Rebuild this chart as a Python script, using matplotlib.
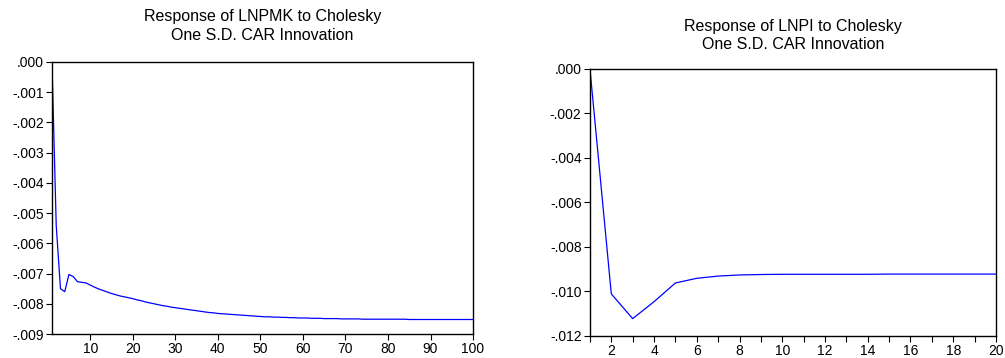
import numpy as np
import matplotlib.pyplot as plt
import matplotlib as mpl
from matplotlib.ticker import FuncFormatter, MultipleLocator

mpl.rcParams['font.family'] = ['Liberation Sans', 'DejaVu Sans']

# ---- data: impulse responses ----
lnpmk_periods = list(range(1, 101))
lnpmk_resp = [
    0.0, -0.0054, -0.0075, -0.0076, -0.00703, -0.0071, -0.00727, -0.00729, -0.00731, -0.00738,
    -0.00745, -0.00751, -0.00756, -0.00761, -0.00766, -0.00770, -0.00774, -0.00777, -0.00780, -0.00783,
    -0.00787, -0.00790, -0.00794, -0.00797, -0.00800, -0.00803, -0.00806, -0.00808, -0.00811, -0.00813,
    -0.00815, -0.00817, -0.00819, -0.00821, -0.00823, -0.00825, -0.00827, -0.00829, -0.00830, -0.00832,
    -0.00833, -0.00834, -0.00835, -0.00836, -0.00837, -0.00838, -0.00839, -0.00840, -0.00841, -0.00842,
    -0.00843, -0.00843, -0.00844, -0.00844, -0.00845, -0.00845, -0.00846, -0.00846, -0.00847, -0.00847,
    -0.00847, -0.00848, -0.00848, -0.00848, -0.00849, -0.00849, -0.00849, -0.00849, -0.00850, -0.00850,
    -0.00850, -0.00850, -0.00850, -0.00851, -0.00851, -0.00851, -0.00851, -0.00851, -0.00851, -0.00851,
    -0.00851, -0.00851, -0.00851, -0.00851, -0.00852, -0.00852, -0.00852, -0.00852, -0.00852, -0.00852,
    -0.00852, -0.00852, -0.00852, -0.00852, -0.00852, -0.00852, -0.00852, -0.00852, -0.00852, -0.00852,
]

lnpi_periods = list(range(1, 21))
lnpi_resp = [
    0.0, -0.01011, -0.01122, -0.01046, -0.00962, -0.00941, -0.00931, -0.00926, -0.00924, -0.00923,
    -0.00923, -0.00923, -0.00923, -0.00923, -0.00922, -0.00922, -0.00922, -0.00922, -0.00922, -0.00922,
]

titles = ['Response of LNPMK to Cholesky\nOne S.D. CAR Innovation',
          'Response of LNPI to Cholesky\nOne S.D. CAR Innovation']


def eviews_fmt(v, pos):
    s = f'{abs(v):.3f}'.lstrip('0')
    return s if abs(v) < 1e-12 else ('-' + s if v < 0 else s)


def style_axes(ax):
    for sp in ax.spines.values():
        sp.set_linewidth(1.0)
        sp.set_color('black')
    ax.tick_params(axis='both', which='both', direction='out', length=4,
                   width=0.8, labelsize=10, top=False, right=False, pad=2)
    ax.yaxis.set_major_formatter(FuncFormatter(eviews_fmt))


fig = plt.figure(figsize=(10.05, 3.58), dpi=100)

ax1 = fig.add_axes([0.0517, 0.067, 0.419, 0.760])
ax1.plot(lnpmk_periods, lnpmk_resp, color='#0000FF', linewidth=0.9)
ax1.set_xlim(1, 100)
ax1.set_ylim(-0.009, 0.0)
ax1.set_xticks(range(10, 101, 10))
ax1.yaxis.set_major_locator(MultipleLocator(0.001))
style_axes(ax1)
ax1.set_title(titles[0], fontsize=11.5, pad=16, linespacing=1.3)

ax2 = fig.add_axes([0.587, 0.0615, 0.404, 0.7465])
ax2.plot(lnpi_periods, lnpi_resp, color='#0000FF', linewidth=0.9)
ax2.set_xlim(1, 20)
ax2.set_ylim(-0.012, 0.0)
ax2.set_xticks(range(2, 21, 2))
ax2.set_xticks(range(1, 20, 2), minor=True)
ax2.yaxis.set_major_locator(MultipleLocator(0.002))
style_axes(ax2)
ax2.set_title(titles[1], fontsize=11.5, pad=14, linespacing=1.3)

fig.savefig('out.png', dpi=100, facecolor='white')
